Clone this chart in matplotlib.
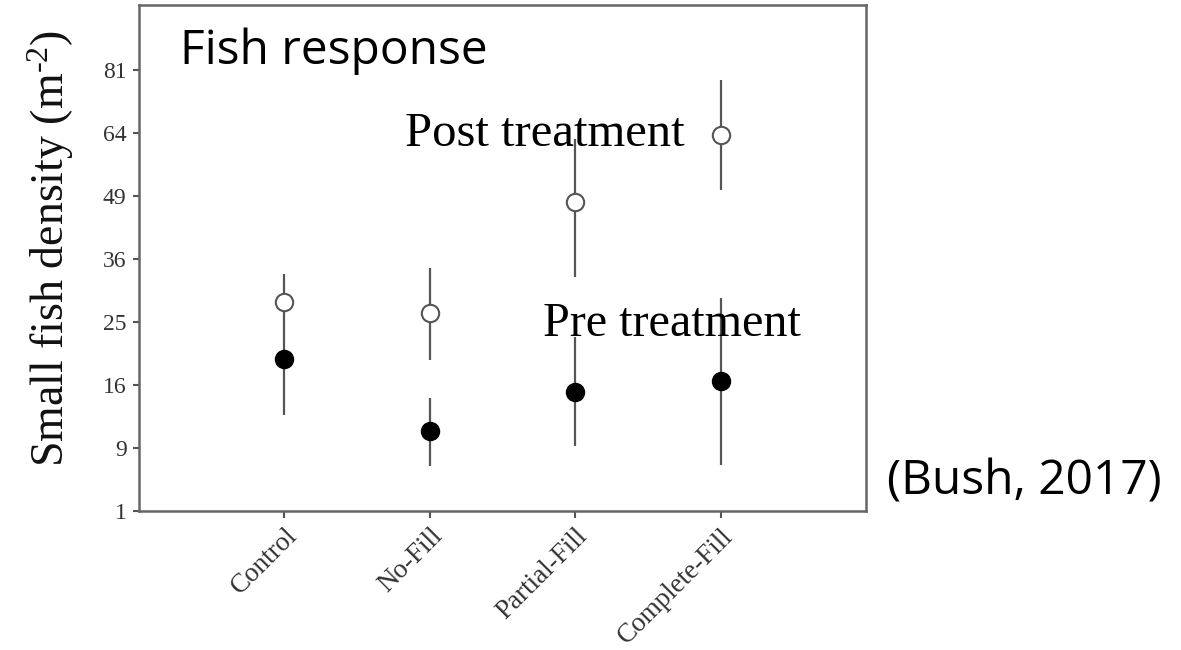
import numpy as np
import matplotlib
matplotlib.use("Agg")
import matplotlib.pyplot as plt

plt.rcParams["mathtext.fontset"] = "custom"
plt.rcParams["mathtext.rm"] = "Liberation Serif"
plt.rcParams["mathtext.it"] = "Liberation Serif:italic"

# ---- data ----
categories = ["Control", "No-Fill", "Partial-Fill", "Complete-Fill"]
post_mean = [28.5, 26.6, 47.7, 63.6]
post_low = [24.0, 19.6, 32.9, 50.4]
post_high = [33.4, 34.5, 62.5, 78.3]
pre_mean = [19.7, 10.9, 15.2, 16.5]
pre_low = [12.7, 6.7, 9.2, 6.9]
pre_high = [24.0, 14.6, 22.8, 29.2]
ytick_vals = [1, 9, 16, 25, 36, 49, 64, 81]

# ---- evenly spaced tick scale ----
kv = np.array(ytick_vals, dtype=float)
ki = np.arange(len(kv), dtype=float)


def fwd(v):
    v = np.asarray(v, dtype=float)
    out = np.interp(v, kv, ki)
    lo_s = (ki[1] - ki[0]) / (kv[1] - kv[0])
    hi_s = (ki[-1] - ki[-2]) / (kv[-1] - kv[-2])
    out = np.where(v < kv[0], ki[0] + (v - kv[0]) * lo_s, out)
    out = np.where(v > kv[-1], ki[-1] + (v - kv[-1]) * hi_s, out)
    return out


def inv(i):
    i = np.asarray(i, dtype=float)
    out = np.interp(i, ki, kv)
    lo_s = (kv[1] - kv[0]) / (ki[1] - ki[0])
    hi_s = (kv[-1] - kv[-2]) / (ki[-1] - ki[-2])
    out = np.where(i < ki[0], kv[0] + (i - ki[0]) * lo_s, out)
    out = np.where(i > ki[-1], kv[-1] + (i - ki[-1]) * hi_s, out)
    return out


fig = plt.figure(figsize=(11.81, 6.5), dpi=100)
ax = fig.add_axes([0.1177, 0.2138, 0.6156, 0.7785])
ax.set_yscale("function", functions=(fwd, inv))

x = np.arange(1, len(categories) + 1)
gray = "#555555"

post_m = np.array(post_mean)
pre_m = np.array(pre_mean)
ax.errorbar(x, post_m, yerr=[post_m - np.array(post_low), np.array(post_high) - post_m],
            fmt="none", ecolor=gray, elinewidth=1.6, capsize=0, zorder=2)
ax.errorbar(x, pre_m, yerr=[pre_m - np.array(pre_low), np.array(pre_high) - pre_m],
            fmt="none", ecolor=gray, elinewidth=1.6, capsize=0, zorder=2)
ax.plot(x, post_m, "o", ms=12.5, mfc="white", mec=gray, mew=1.5, zorder=3, ls="none")
ax.plot(x, pre_m, "o", ms=13, mfc="black", mec="black", mew=1, zorder=3, ls="none")

ax.set_xlim(0, 5)
ax.set_ylim(1, 98.5)
ax.set_yticks(ytick_vals)
ax.set_yticklabels([str(v) for v in ytick_vals], family="Liberation Serif",
                   fontsize=17, color="#333333")
ax.set_xticks(x)
ax.set_xticklabels(categories, rotation=45, ha="right", rotation_mode="anchor",
                   family="Liberation Serif", fontsize=19.5, color="#333333")
ax.tick_params(axis="x", direction="out", length=5, width=1.5, color=gray, pad=4)
ax.tick_params(axis="y", direction="out", length=4, width=1.5, color=gray, pad=5)
for s in ax.spines.values():
    s.set_color("#666666")
    s.set_linewidth(1.8)

ax.set_ylabel("Small fish density (m$^{\\text{-2}}$)", family="Liberation Serif",
              fontsize=33, color="#111111", va="center")
ax.yaxis.set_label_coords(-0.122, 0.519)

ax.text(0.057, 0.8834, "Fish response", transform=ax.transAxes, family="Open Sans",
        fontsize=34.5, va="baseline", ha="left")
ax.text(0.366, 0.7214, "Post treatment", transform=ax.transAxes, family="Liberation Serif",
        fontsize=35, va="baseline", ha="left")
ax.text(0.5557, 0.3459, "Pre treatment", transform=ax.transAxes, family="Liberation Serif",
        fontsize=34.7, va="baseline", ha="left")
fig.text(0.751, 0.2385, "(Bush, 2017)", family="Open Sans", fontsize=34.5,
         va="baseline", ha="left")

fig.savefig("out.png", dpi=100)
